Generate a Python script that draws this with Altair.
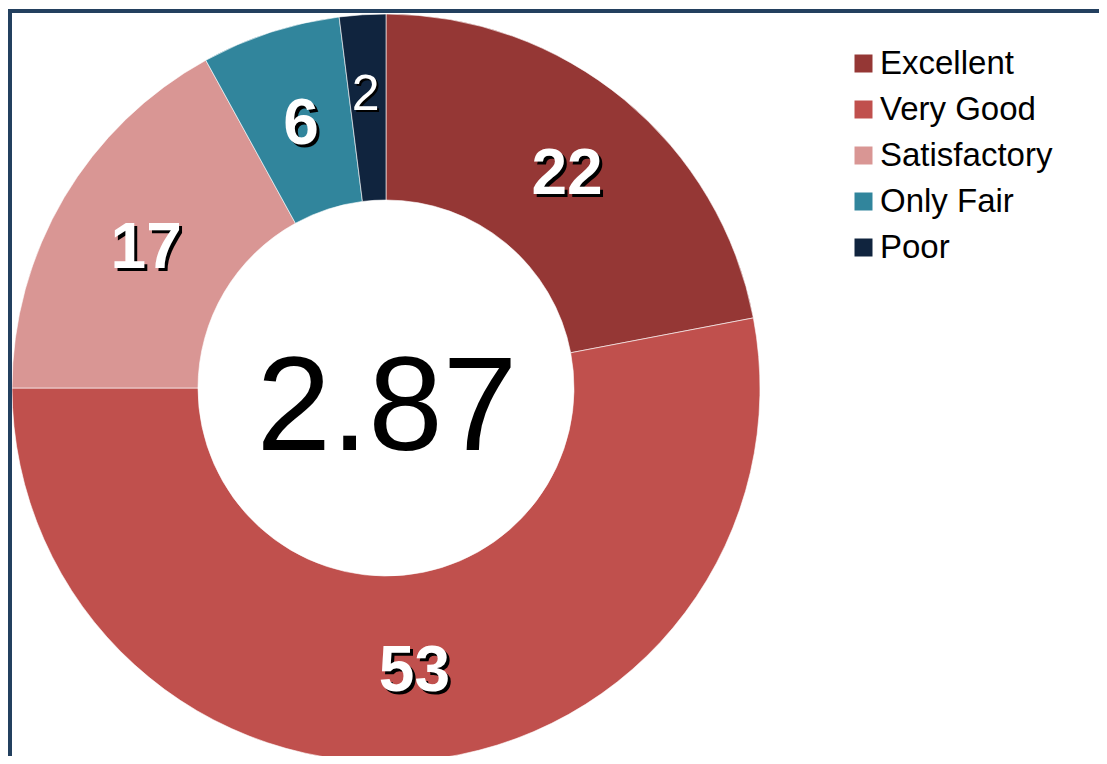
import altair as alt
import pandas as pd

categories = ["Excellent", "Very Good", "Satisfactory", "Only Fair", "Poor"]
values = [22, 53, 17, 6, 2]
colors = ["#953735", "#C0504D", "#D99694", "#31859C", "#10243E"]
center_value = "2.87"

df = pd.DataFrame({
    "category": categories,
    "value": values,
    "idx": list(range(len(categories))),
})

W, H = 1091, 748
CX, CY = 378, 380
FONT = "Liberation Sans"
BORDER = "#23405F"

base = alt.Chart(df).transform_calculate(
    boldLabel="datum.category == 'Poor' ? '' : datum.value",
    regLabel="datum.category == 'Poor' ? datum.value : ''",
).encode(
    theta=alt.Theta("value:Q", stack=True),
    order=alt.Order("idx:Q"),
    x=alt.value(CX),
    y=alt.value(CY),
)

arcs = base.mark_arc(outerRadius=374, innerRadius=188, stroke="white", strokeWidth=0.6).encode(
    color=alt.Color(
        "category:N",
        scale=alt.Scale(domain=categories, range=colors),
        legend=alt.Legend(
            title=None, orient="none", legendX=839, legendY=39,
            symbolType="square", symbolSize=324, symbolStrokeWidth=0,
            labelFontSize=33, labelFont=FONT, labelColor="black",
            labelOffset=0, rowPadding=12, padding=0, labelLimit=400,
        ),
    )
)

shadow_bold = base.mark_text(radius=281, font=FONT, fontWeight="bold", fontSize=64,
                             color="black", dx=5, dy=7, baseline="middle").encode(text="boldLabel:N")
text_bold = base.mark_text(radius=281, font=FONT, fontWeight="bold", fontSize=64,
                           color="white", dx=2, dy=4, baseline="middle").encode(text="boldLabel:N")
shadow_reg = base.mark_text(radius=294, font=FONT, fontSize=50,
                            color="black", dx=0, dy=2, baseline="middle").encode(text="regLabel:N")
text_reg = base.mark_text(radius=294, font=FONT, fontSize=50,
                          color="white", dx=-2, dy=0, baseline="middle").encode(text="regLabel:N")

one = pd.DataFrame({"t": [center_value]})
center = alt.Chart(one).mark_text(font=FONT, fontSize=134, color="black",
                                  baseline="alphabetic", align="center").encode(
    text="t:N", x=alt.value(379), y=alt.value(442)
)

top_rule = alt.Chart(one).mark_rule(color=BORDER, strokeWidth=4).encode(
    x=alt.value(0), x2=alt.value(W), y=alt.value(3)
)
left_rule = alt.Chart(one).mark_rule(color=BORDER, strokeWidth=4).encode(
    x=alt.value(2), y=alt.value(1), y2=alt.value(H)
)

chart = alt.layer(
    arcs, shadow_bold, text_bold, shadow_reg, text_reg, center, top_rule, left_rule
).properties(
    width=W, height=H, padding=0, autosize=alt.AutoSizeParams(type="none"), background="white"
).configure_view(stroke=None)

chart.save("out.html", embed_options={"renderer": "svg", "actions": False})
